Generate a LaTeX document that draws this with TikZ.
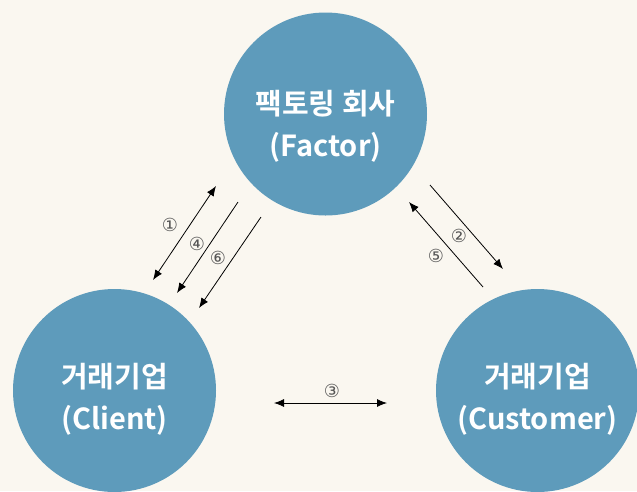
\documentclass[tikz,border=0pt]{standalone}
\usepackage{fontspec}
\usetikzlibrary{arrows.meta}
\newfontfamily\krfont{Noto Sans CJK KR}[BoldFont=* Bold]
\newfontfamily\numfont{DejaVu Sans}
\definecolor{paper}{HTML}{FAF7F0}
\definecolor{disc}{HTML}{5E9BBB}
\definecolor{numgray}{HTML}{555555}
\tikzset{
  party/.style={circle, fill=disc, minimum size=203pt, inner sep=0pt},
  partytext/.style={text=white, align=center, inner sep=0pt,
    font=\krfont\bfseries\fontsize{29}{42}\selectfont},
  flow/.style={line width=0.8pt, -{Latex[length=10pt,width=8pt]}},
  flowboth/.style={line width=0.8pt, {Latex[length=10pt,width=8pt]}-{Latex[length=10pt,width=8pt]}},
  stepnum/.style={font=\numfont\fontsize{18}{18}\selectfont, text=numgray, inner sep=0pt}
}
\begin{document}
\begin{tikzpicture}[x=1pt,y=-1pt]
\fill[paper] (0,0) rectangle (637,491);
\useasboundingbox (0,0) rectangle (637,491);

\node[party] (factor) at (325.5,114) {};
\node[party] (client) at (114.5,390.5) {};
\node[party] (customer) at (537.5,390.5) {};

\node[partytext] (factortext) at ([yshift=-12pt]factor.center) {팩토링 회사\\(Factor)};
\node[partytext] (clienttext) at ([yshift=-9pt]client.center) {거래기업\\(Client)};
\node[partytext] (customertext) at ([yshift=-9pt]customer.center) {거래기업\\(Customer)};

% client <-> factor
\coordinate (a1s) at (153,280);  \coordinate (a1e) at (216,186);
\coordinate (a4s) at (238,202);  \coordinate (a4e) at (177,293);
\coordinate (a6s) at (261,217);  \coordinate (a6e) at (199,308);
% factor <-> customer
\coordinate (a2s) at (430,185);  \coordinate (a2e) at (503,269);
\coordinate (a5s) at (483,287);  \coordinate (a5e) at (409,202);
% client <-> customer
\coordinate (a3s) at (274,403);  \coordinate (a3e) at (387,403);

\draw[flowboth] (a1s) -- (a1e);
\draw[flow] (a4s) -- (a4e);
\draw[flow] (a6s) -- (a6e);
\draw[flow] (a2s) -- (a2e);
\draw[flow] (a5s) -- (a5e);
\draw[flowboth] (a3s) -- (a3e);

\node[stepnum] (n1) at (170,225) {①};
\node[stepnum] (n4) at (197,244) {④};
\node[stepnum] (n6) at (218,258) {⑥};
\node[stepnum] (n2) at (459,236) {②};
\node[stepnum] (n5) at (436,256) {⑤};
\node[stepnum] (n3) at (332,391) {③};
\end{tikzpicture}
\end{document}
